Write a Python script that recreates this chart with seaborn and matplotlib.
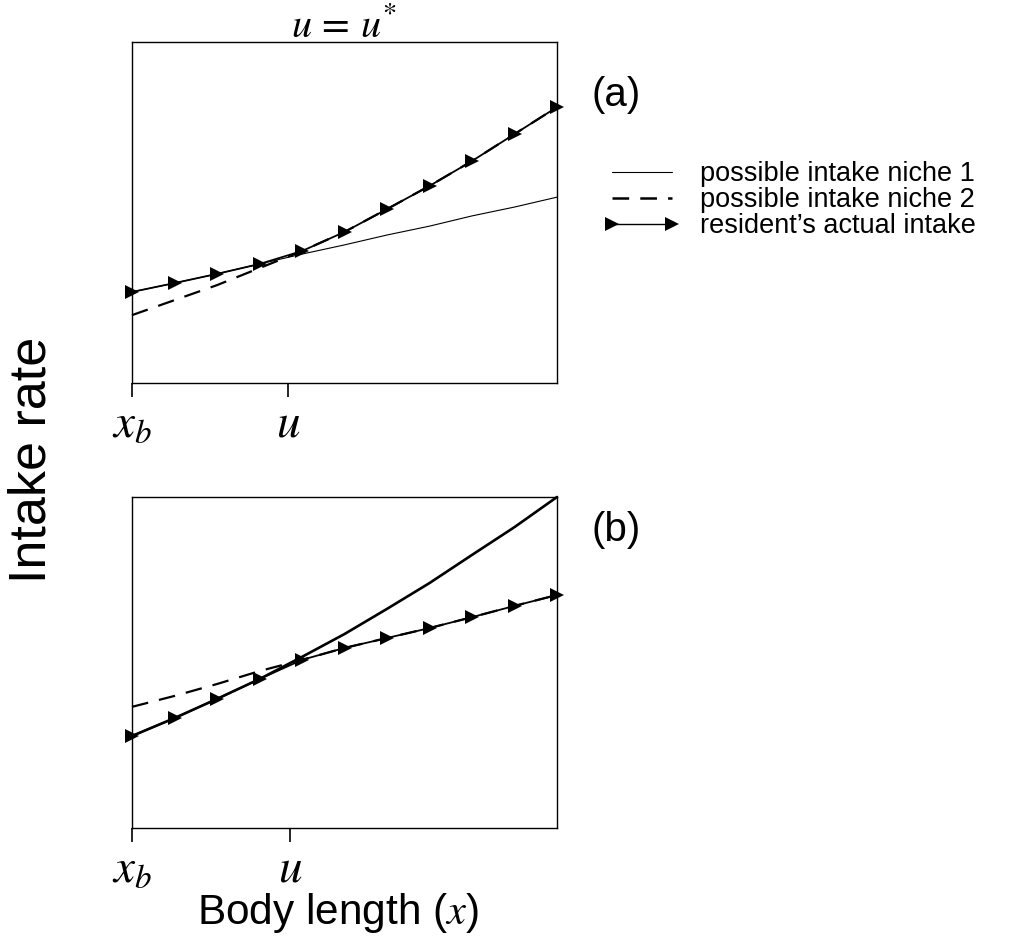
import numpy as np
import pandas as pd
import matplotlib
matplotlib.use("Agg")
import matplotlib.pyplot as plt
from matplotlib.lines import Line2D
import seaborn as sns

# ---------------- data ----------------
x_rel = [0.0, 0.1, 0.2, 0.3, 0.4, 0.5, 0.6, 0.7, 0.8, 0.9, 1.0]

# panel (a)
a_niche1 = [0.267, 0.293, 0.320, 0.349, 0.378, 0.405, 0.434, 0.460, 0.490, 0.516, 0.545]
a_niche2 = [0.199, 0.243, 0.287, 0.337, 0.387, 0.443, 0.510, 0.578, 0.651, 0.730, 0.809]
a_resident = [0.267, 0.293, 0.320, 0.349, 0.387, 0.443, 0.510, 0.578, 0.651, 0.730, 0.809]

# panel (b)
b_niche1 = [0.278, 0.332, 0.390, 0.450, 0.517, 0.586, 0.662, 0.740, 0.825, 0.909, 1.000]
b_niche2 = [0.366, 0.399, 0.435, 0.474, 0.508, 0.544, 0.574, 0.604, 0.637, 0.671, 0.704]
b_resident = [0.278, 0.332, 0.390, 0.450, 0.508, 0.544, 0.574, 0.604, 0.637, 0.671, 0.704]

u_a = 0.367
u_b = 0.372
tick_labels = [r"$x_b$", r"$u$"]
panel_labels = ["(a)", "(b)"]
legend_labels = ["possible intake niche 1", "possible intake niche 2",
                 "resident\u2019s actual intake"]
title_text = r"$u\,=\,u^{*}$"
ylabel_text = "Intake rate"
xlabel_text = r"Body length ($x$)"

# ---------------- style ----------------
sns.set_style("ticks", {"axes.edgecolor": "black", "xtick.color": "black",
                        "ytick.color": "black", "text.color": "black",
                        "axes.labelcolor": "black"})
plt.rcParams["font.family"] = ["Liberation Sans", "DejaVu Sans"]
plt.rcParams["mathtext.fontset"] = "stix"
plt.rcParams["lines.scale_dashes"] = False
plt.rcParams["text.color"] = "black"

fig = plt.figure(figsize=(10.15, 9.49), dpi=100)
W, H = 1015, 949


def ax_rect(x0, y0, x1, y1):
    return [x0 / W, 1 - y1 / H, (x1 - x0) / W, (y1 - y0) / H]


ax_a = fig.add_axes(ax_rect(132, 42, 557, 383))
ax_b = fig.add_axes(ax_rect(132, 497, 557, 828))

DASH = (0, (12, 8))


def draw_panel(ax, n1, n2, res, u, n1_lw):
    df = pd.DataFrame({"x": x_rel, "n1": n1, "n2": n2, "res": res})
    sns.lineplot(data=df, x="x", y="n1", ax=ax, color="black", lw=n1_lw,
                 clip_on=False)
    sns.lineplot(data=df, x="x", y="n2", ax=ax, color="black", lw=1.6,
                 linestyle=DASH, clip_on=False)
    sns.lineplot(data=df, x="x", y="res", ax=ax, color="black", lw=1.3,
                 marker=">", markersize=10, markeredgewidth=0,
                 clip_on=False)
    ax.set_xlim(0, 1)
    ax.set_ylim(0, 1)
    ax.set_xticks([0, u])
    ax.set_xticklabels(tick_labels, fontsize=34, color="black")
    ax.set_yticks([])
    ax.set_xlabel("")
    ax.set_ylabel("")
    ax.tick_params(axis="x", direction="out", length=10, width=1.2, pad=4)
    for sp in ax.spines.values():
        sp.set_visible(True)
        sp.set_linewidth(1.0)
        sp.set_color("black")


draw_panel(ax_a, a_niche1, a_niche2, a_resident, u_a, 0.8)
draw_panel(ax_b, b_niche1, b_niche2, b_resident, u_b, 1.9)

# title and panel labels
fig.text(344 / W, 1 - 26 / H, title_text, fontsize=29, ha="center", va="center")
fig.text(616 / W, 1 - 95 / H, panel_labels[0], fontsize=29, ha="center", va="center")
fig.text(616 / W, 1 - 530 / H, panel_labels[1], fontsize=29, ha="center", va="center")

# axis labels
fig.text(32 / W, 1 - 460 / H, ylabel_text, fontsize=37.5, rotation=90,
         ha="center", va="center")
fig.text(338 / W, 1 - 913 / H, xlabel_text, fontsize=30.5, ha="center", va="center")

# legend
handles = [
    Line2D([], [], color="black", lw=0.8),
    Line2D([], [], color="black", lw=1.8, linestyle=DASH),
    Line2D([], [], color="black", lw=1.0, marker=">", markersize=10,
           markeredgewidth=0),
]
fig.legend(handles, legend_labels, loc="upper left",
           bbox_to_anchor=(604 / W, 1 - 161 / H), frameon=False,
           fontsize=19.5, handlelength=2.8, handletextpad=0.74,
           labelspacing=0.0, numpoints=2, borderpad=0, borderaxespad=0)

fig.savefig("out.png", dpi=100)
